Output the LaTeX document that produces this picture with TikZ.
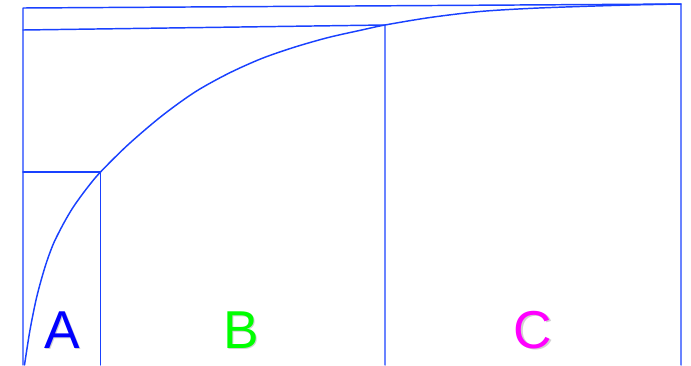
\documentclass[tikz,border=0pt]{standalone}
\usepackage{fontspec}
\setmainfont{Liberation Sans}
\definecolor{linecol}{RGB}{25,65,255}
\definecolor{colA}{RGB}{0,0,255}
\definecolor{colB}{RGB}{0,255,0}
\definecolor{colC}{RGB}{255,0,255}
\begin{document}
\begin{tikzpicture}[x=0.75pt,y=-0.75pt,
  ln/.style={draw=linecol,line width=1.1pt,line cap=round,line join=round},
  lbl/.style={inner sep=0pt,anchor=base,font=\fontsize{40}{40}\selectfont},
  shd/.style={lbl,text=black,opacity=0.18}]
\useasboundingbox (0,0) rectangle (691,365);
% key points
\coordinate (O) at (24,365);
\coordinate (P1) at (100.5,172);
\coordinate (P2) at (385,25);
\coordinate (P3) at (681,4);
\coordinate (L1) at (23,172);
\coordinate (L2) at (23,30);
\coordinate (L3) at (23,8);
\coordinate (B1) at (100.5,365);
\coordinate (B2) at (385,365);
\coordinate (B3) at (681,365);
\coordinate (B0) at (23,365);
% frame lines
\draw[ln] (B0) -- (L3) -- (P3) -- (B3);
\draw[ln] (L2) -- (P2) -- (B2);
\draw[ln] (L1) -- (P1) -- (B1);
% curve
\draw[ln] plot[smooth,tension=0.5] coordinates {(24.5,365) (30,330) (36.7,297) (45,267) (53.3,244) (63.3,224) (73.3,207) (86.7,188.5) (100.5,172) (128.3,144.5) (161.7,116) (195,92) (228.3,73.5) (261.7,58.5) (295,47) (328.3,37.5) (361.7,30) (385,25) (430,17.5) (480,11.5) (530,8.4) (580,6.5) (630,5) (681,4)};
% labels
\node[shd] (sA) at (63.5,349.5) {A};
\node[shd] (sB) at (242.5,349.5) {B};
\node[shd] (sC) at (534.5,349.5) {C};
\node[lbl,text=colA] (A) at (62.5,348) {A};
\node[lbl,text=colB] (B) at (241,348) {B};
\node[lbl,text=colC] (C) at (533,348) {C};
\end{tikzpicture}
\end{document}
